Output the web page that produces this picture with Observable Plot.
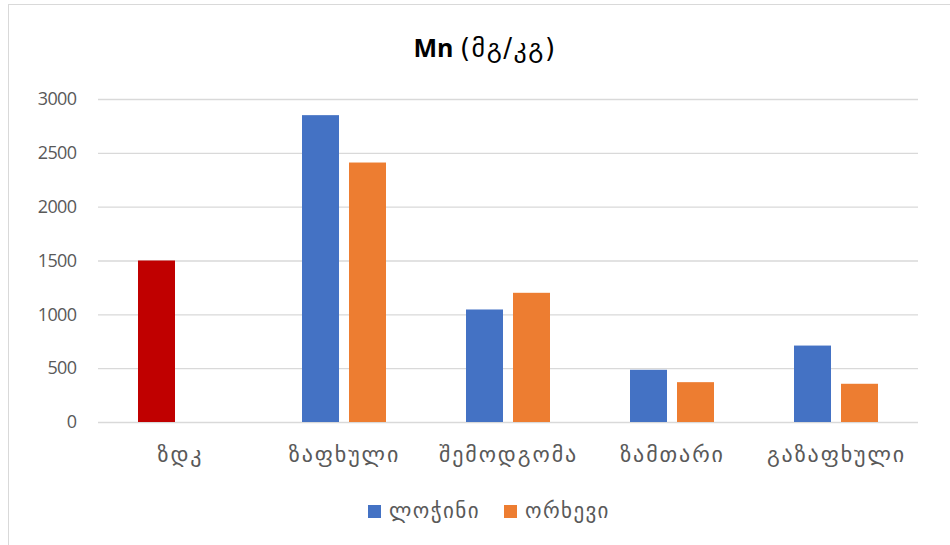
<!DOCTYPE html>
<html>
<head>
<meta charset="utf-8">
<script src="https://cdn.jsdelivr.net/npm/d3@7"></script>
<script src="https://cdn.jsdelivr.net/npm/@observablehq/plot@0.6"></script>
<style>
  html, body { margin: 0; padding: 0; background: #fff; }
  #chart {
    position: relative; width: 950px; height: 545px; overflow: hidden;
    font-family: "Open Sans", "DejaVu Sans", sans-serif; color: #595959;
  }
  #frame {
    position: absolute; left: 8px; top: 4px; width: 960px; height: 560px;
    border: 1.5px solid #d9d9d9; box-sizing: border-box;
  }
  #title {
    position: absolute; left: 0; top: 0; width: 950px; height: 80px;
    display: flex; align-items: center; justify-content: center; padding-top: 14px; padding-left: 20px; box-sizing: border-box;
    font-size: 25px; font-weight: bold; color: #000;
  }
  #title .unit { font-weight: normal; font-family: "DejaVu Sans", sans-serif; font-size: 26px; letter-spacing: 1.5px; }
  #plot { position: absolute; left: 0; top: 80px; }
  #legend {
    position: absolute; left: 0; top: 496px; width: 950px; height: 30px;
    display: flex; align-items: center; justify-content: center; gap: 24px; padding-left: 28px; box-sizing: border-box;
    font-size: 21px; font-family: "DejaVu Sans", sans-serif; color: #595959; letter-spacing: 1.4px;
  }
  #legend .item { display: flex; align-items: center; gap: 8px; }
  #legend .sw { width: 13px; height: 13px; display: inline-block; }
  #plot text { fill: #595959; }
  #plot g[aria-label="fx-axis tick label"] { font-size: 22px; letter-spacing: 1.9px; }
  #plot g[aria-label="y-axis tick label"] { font-size: 18px; letter-spacing: -0.6px; }
</style>
</head>
<body>
<div id="chart">
  <div id="frame"></div>
  <div id="title"><span>Mn&nbsp;<span class="unit">(მგ/კგ)</span></span></div>
  <div id="plot"></div>
  <div id="legend"></div>
</div>
<script>
// Manganese content by season at two sites, with the permissible limit (ზდკ)
const categories = ["ზდკ", "ზაფხული", "შემოდგომა", "ზამთარი", "გაზაფხული"];
const seasons = ["ზაფხული", "შემოდგომა", "ზამთარი", "გაზაფხული"];
const seriesNames = ["ლოჭინი", "ორხევი"];
const lochini = [2850, 1045, 485, 710];
const orkhevi = [2410, 1200, 370, 355];
const limitValue = 1500;
const seriesColors = ["#4472C4", "#ED7D31"];
const limitColor = "#C00000";
const yTicks = [0, 500, 1000, 1500, 2000, 2500, 3000];

const rows = [];
seasons.forEach((s, i) => {
  rows.push({cat: s, series: seriesNames[0], value: lochini[i]});
  rows.push({cat: s, series: seriesNames[1], value: orkhevi[i]});
});
const limitRows = [{cat: categories[0], series: seriesNames[0], value: limitValue}];

const chart = Plot.plot({
  width: 950,
  height: 400,
  marginLeft: 97,
  marginRight: 32,
  marginTop: 19,
  marginBottom: 58,
  style: {fontFamily: "'Open Sans', 'DejaVu Sans', sans-serif", fontSize: "19px", color: "#595959", background: "transparent"},
  fx: {domain: categories, padding: 0, label: null, axis: "bottom", tickSize: 0, tickPadding: 24},
  x: {domain: seriesNames, paddingInner: 0.21, paddingOuter: 0.83, axis: null},
  y: {domain: [0, 3000], ticks: yTicks, tickFormat: d => String(d), label: null, tickSize: 0, tickPadding: 22},
  color: {domain: seriesNames, range: seriesColors},
  marks: [
    Plot.ruleY(yTicks, {stroke: "#d9d9d9", strokeWidth: 1.3}),
    Plot.barY(rows, {fx: "cat", x: "series", y: "value", fill: "series"}),
    Plot.barY(limitRows, {fx: "cat", x: "series", y: "value", fill: limitColor})
  ]
});
document.getElementById("plot").appendChild(chart);

const legend = document.getElementById("legend");
seriesNames.forEach((name, i) => {
  const item = document.createElement("span");
  item.className = "item";
  const sw = document.createElement("span");
  sw.className = "sw";
  sw.style.background = seriesColors[i];
  item.appendChild(sw);
  item.appendChild(document.createTextNode(name));
  legend.appendChild(item);
});
</script>
</body>
</html>
